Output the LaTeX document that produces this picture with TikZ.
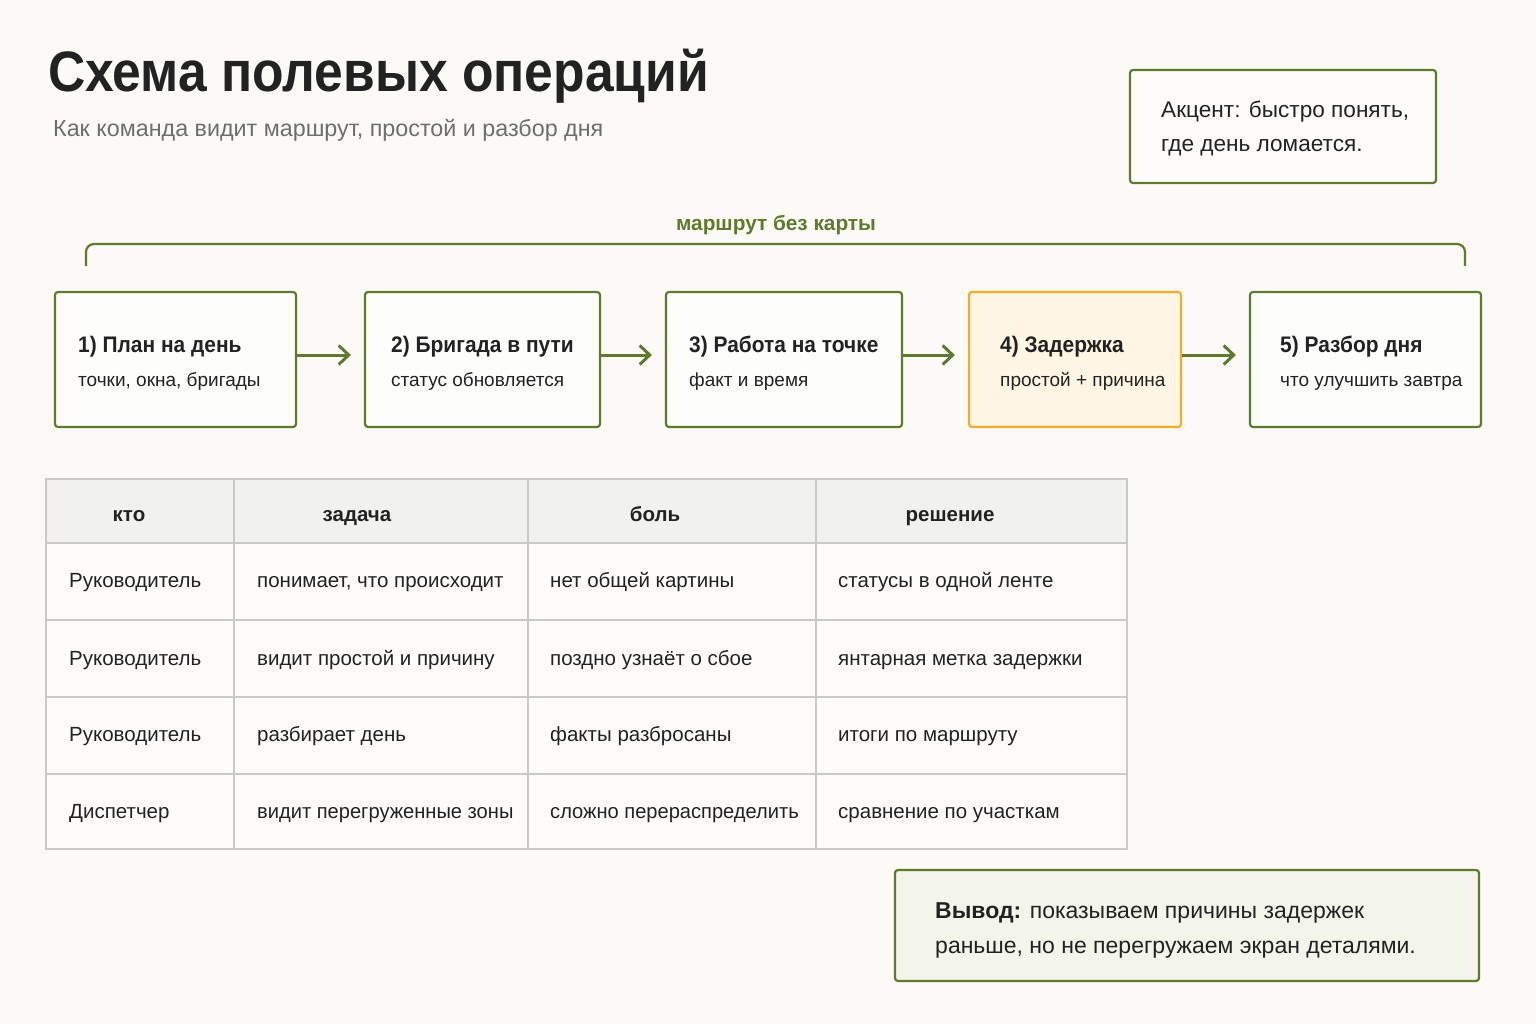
\documentclass[tikz,border=0pt]{standalone}
\usepackage{fontspec}
\setmainfont{Liberation Sans}
\usetikzlibrary{arrows.meta}
\definecolor{olive}{HTML}{5F7A2E}
\definecolor{bgc}{HTML}{FBFAF6}
\definecolor{ink}{HTML}{222222}
\definecolor{subg}{HTML}{6E6E6E}
\definecolor{amber}{HTML}{F0AE2A}
\definecolor{amberfill}{HTML}{FFF7E3}
\definecolor{gridc}{HTML}{C9C9C6}
\definecolor{headfill}{HTML}{F1F1EE}
\definecolor{concl}{HTML}{F3F5EA}
\newcommand{\cond}[2][0.93]{\scalebox{#1}[1]{#2}}
\tikzset{
  stepbox/.style={draw=olive, line width=2.2pt, fill=white!60!bgc, rounded corners=3pt},
  delaybox/.style={draw=amber, line width=2.2pt, fill=amberfill, rounded corners=3pt},
  flowarrow/.style={draw=olive, line width=3pt, -{Straight Barb[length=10pt,width=19pt,line width=3pt]}, shorten >=13pt},
  boxtitle/.style={anchor=base west, inner sep=0pt, font=\fontsize{22.5}{26}\selectfont\bfseries, text=ink},
  boxsub/.style={anchor=base west, inner sep=0pt, font=\fontsize{19}{22}\selectfont, text=ink},
  cell/.style={anchor=base west, inner sep=0pt, font=\fontsize{20.5}{24}\selectfont, text=ink},
  headcell/.style={anchor=base, inner sep=0pt, font=\fontsize{20.5}{24}\selectfont\bfseries, text=ink},
  notetext/.style={anchor=base west, inner sep=0pt, font=\fontsize{22.6}{26}\selectfont, text=ink},
  concltext/.style={anchor=base west, inner sep=0pt, font=\fontsize{23}{26}\selectfont, text=ink},
}
\begin{document}
\begin{tikzpicture}[x=1pt,y=-1pt]
\fill[bgc] (0,0) rectangle (1536,1024);
\useasboundingbox (0,0) rectangle (1536,1024);

% title
\node[anchor=base west, inner sep=0pt, font=\fontsize{57}{60}\selectfont\bfseries, text=ink] (title) at (48,92) {\cond[0.905]{Схема полевых операций}};
\node[anchor=base west, inner sep=0pt, font=\fontsize{23.3}{26}\selectfont, text=subg] (subtitle) at (53,137) {Как команда видит маршрут, простой и разбор дня};

% accent box
\draw[stepbox, fill=white!40!bgc] (1130,70) rectangle (1436,183);
\node[notetext] (acc1) at (1161,118) {Акцент: быстро понять,};
\node[notetext] (acc2) at (1161,152) {где день ломается.};

% bracket
\node[anchor=base, inner sep=0pt, font=\fontsize{20.8}{24}\selectfont\bfseries, text=olive] (brlabel) at (776,231) {маршрут без карты};
\draw[olive, line width=2.2pt, rounded corners=8pt] (86,266) -- (86,244) -- (1465,244) -- (1465,266);

% step boxes
\node[stepbox, minimum width=241pt, minimum height=135pt, inner sep=0pt] (s1) at (175.5,359.5) {};
\node[stepbox, minimum width=235pt, minimum height=135pt, inner sep=0pt] (s2) at (482.5,359.5) {};
\node[stepbox, minimum width=236pt, minimum height=135pt, inner sep=0pt] (s3) at (784,359.5) {};
\node[delaybox, minimum width=212pt, minimum height=135pt, inner sep=0pt] (s4) at (1075,359.5) {};
\node[stepbox, minimum width=231pt, minimum height=135pt, inner sep=0pt] (s5) at (1365.5,359.5) {};

\node[boxtitle] (t1) at (78,352) {\cond{1) План на день}};
\node[boxsub] (u1) at (78,386) {точки, окна, бригады};
\node[boxtitle] (t2) at (391,352) {\cond{2) Бригада в пути}};
\node[boxsub] (u2) at (391,386) {статус обновляется};
\node[boxtitle] (t3) at (689,352) {\cond{3) Работа на точке}};
\node[boxsub] (u3) at (689,386) {факт и время};
\node[boxtitle] (t4) at (1000,352) {\cond{4) Задержка}};
\node[boxsub] (u4) at (1000,386) {простой + причина};
\node[boxtitle] (t5) at (1280,352) {\cond{5) Разбор дня}};
\node[boxsub] (u5) at (1280,386) {что улучшить завтра};

\draw[flowarrow] (s1.east |- 0,355) -- (s2.west |- 0,355);
\draw[flowarrow] (s2.east |- 0,355) -- (s3.west |- 0,355);
\draw[flowarrow] (s3.east |- 0,355) -- (s4.west |- 0,355);
\draw[flowarrow] (s4.east |- 0,355) -- (s5.west |- 0,355);

% table
\fill[headfill] (46,479) rectangle (1127,543);
\fill[white!50!bgc] (46,543) rectangle (1127,849);
\draw[gridc, line width=1.6pt] (46,479) rectangle (1127,849);
\foreach \yy in {543,620,697,774} \draw[gridc, line width=1.6pt] (46,\yy) -- (1127,\yy);
\foreach \xx in {234,528,816} \draw[gridc, line width=1.6pt] (\xx,479) -- (\xx,849);

\node[headcell] (h1) at (129,521) {кто};
\node[headcell] (h2) at (357,521) {задача};
\node[headcell] (h3) at (655,521) {боль};
\node[headcell] (h4) at (950,521) {решение};

\node[cell] (c11) at (69,587) {Руководитель};
\node[cell] (c12) at (257,587) {понимает, что происходит};
\node[cell] (c13) at (550,587) {нет общей картины};
\node[cell] (c14) at (838,587) {статусы в одной ленте};

\node[cell] (c21) at (69,665) {Руководитель};
\node[cell] (c22) at (257,665) {видит простой и причину};
\node[cell] (c23) at (550,665) {поздно узнаёт о сбое};
\node[cell] (c24) at (838,665) {янтарная метка задержки};

\node[cell] (c31) at (69,741) {Руководитель};
\node[cell] (c32) at (257,741) {разбирает день};
\node[cell] (c33) at (550,741) {факты разбросаны};
\node[cell] (c34) at (838,741) {итоги по маршруту};

\node[cell] (c41) at (69,818) {Диспетчер};
\node[cell] (c42) at (257,818) {\cond[0.98]{видит перегруженные зоны}};
\node[cell] (c43) at (550,818) {\cond[0.98]{сложно перераспределить}};
\node[cell] (c44) at (838,818) {сравнение по участкам};

% conclusion
\draw[stepbox, fill=concl] (895,870) rectangle (1479,981);
\node[concltext] (con1) at (935,918) {\textbf{Вывод:} показываем причины задержек};
\node[concltext] (con2) at (935,953) {раньше, но не перегружаем экран деталями.};
\end{tikzpicture}
\end{document}
